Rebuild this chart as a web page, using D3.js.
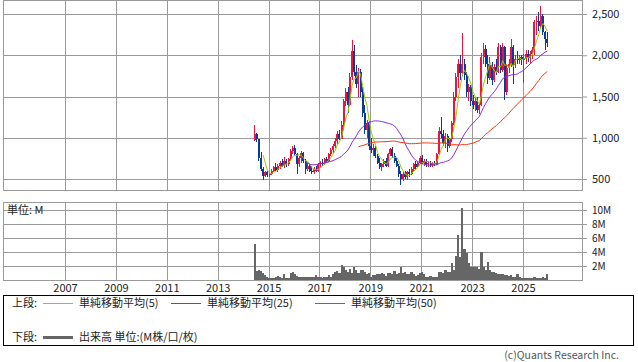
<!DOCTYPE html>
<html>
<head>
<meta charset="utf-8">
<script src="https://cdn.jsdelivr.net/npm/d3@7"></script>
<style>
  body { margin: 0; background: #fff; }
  text { font-family: "Noto Sans CJK JP", "DejaVu Sans", sans-serif; }
</style>
</head>
<body>
<div id="vis"></div>
<script>
// monthly candles, first one is Jun 2014
const firstMonth = [2014, 5];
const opens = [975,1040,985,760,620,540,580,545,560,600,640,610,660,700,660,720,680,740,840,880,
  800,680,760,820,720,620,660,600,580,620,600,680,700,690,740,720,800,850,900,960,
  1050,990,1150,1440,1560,1400,1740,2050,1800,1650,1800,1550,1300,1100,1180,900,850,880,780,700,
  650,680,720,660,800,860,780,720,660,560,500,560,520,580,560,620,680,650,700,760,
  700,720,680,700,670,690,680,800,1080,1050,940,1020,900,980,1180,1500,1740,1900,1780,1900,
  1760,1560,1620,1450,1400,1450,1340,1400,1980,2080,1900,1720,1880,1700,1860,1800,2100,1820,2100,1560,
  1850,1900,2100,1880,1960,1940,1980,1950,1960,2010,1970,2020,2060,2400,2420,2350,2480,2280,2200];
const highs = [1150,1060,990,830,650,600,600,580,620,660,700,680,720,740,770,740,760,860,900,910,
  820,780,840,830,740,700,680,660,640,660,700,720,740,760,770,820,880,920,1000,1080,
  1100,1200,1470,1600,1620,1780,2190,2120,1880,1840,1830,1620,1400,1220,1200,1000,920,900,800,760,
  700,740,760,820,880,890,820,760,680,600,580,600,600,620,640,700,720,720,780,790,
  740,740,720,720,710,720,820,1130,1250,1100,1060,1040,1000,1200,1550,1780,1950,2000,2270,1950,
  1800,1650,1640,1520,1480,1500,1420,2030,2150,2120,2000,1980,1920,1900,1960,2150,2130,2150,2110,1900,
  1960,2200,2130,2000,2050,2000,2000,2020,2060,2060,2050,2100,2430,2480,2520,2600,2500,2300,2280];
const lows = [960,950,720,600,490,520,520,520,545,580,600,590,620,640,630,640,660,720,800,780,
  560,640,700,700,560,600,580,560,560,580,590,650,660,670,700,710,780,820,870,920,
  970,980,1100,1380,1300,1380,1700,1750,1600,1500,1500,1250,1050,1000,850,820,780,760,680,620,
  600,640,640,650,780,760,700,640,520,430,470,500,490,530,550,600,620,640,680,680,
  660,650,650,650,650,660,670,790,1000,900,880,830,870,950,1150,1450,1600,1700,1750,1700,
  1500,1450,1380,1350,1330,1300,1290,1380,1900,1860,1650,1700,1640,1680,1760,1780,1780,1800,1460,1520,
  1780,1860,1650,1840,1900,1900,1880,1660,1900,1920,1900,1960,2000,2250,2300,2330,2250,2060,2100];
const closes = [1040,985,760,620,540,580,545,560,600,640,610,660,700,660,720,680,740,840,880,800,
  680,760,820,720,620,660,600,580,620,600,680,700,690,740,720,800,850,900,960,1050,
  990,1150,1440,1560,1400,1740,2050,1800,1650,1800,1550,1300,1100,1180,900,850,880,780,700,650,
  680,720,660,800,860,780,720,660,560,500,560,520,580,560,620,680,650,700,760,700,
  720,680,700,670,690,680,800,1080,1050,940,1020,900,980,1180,1500,1740,1900,1780,1900,1760,
  1560,1620,1450,1400,1450,1340,1400,1980,2080,1900,1720,1880,1700,1860,1800,2100,1820,2100,1560,1850,
  1900,2100,1880,1960,1940,1980,1950,1960,2010,1970,2020,2060,2400,2420,2350,2480,2280,2200,2150];
// volume in millions
const volumes = [5.2,1.3,1.4,1.3,1.0,0.7,0.4,0.3,0.3,0.3,0.5,0.6,0.4,0.3,0.9,0.3,0.3,1.0,1.2,0.9,
  0.6,0.4,0.4,0.5,0.4,0.4,0.5,0.4,0.4,0.7,0.4,0.5,0.3,0.5,0.5,0.7,0.5,0.9,1.2,1.3,
  1.0,2.1,1.8,1.5,1.2,1.6,1.0,1.8,1.5,1.0,1.4,1.4,1.1,0.9,1.0,0.5,0.7,0.7,0.8,0.9,
  1.0,0.9,0.6,1.0,1.0,0.9,1.3,0.9,1.0,1.8,1.0,1.1,0.9,0.8,1.2,0.9,0.6,0.7,1.0,1.1,
  0.8,0.5,0.5,0.6,0.4,0.5,0.4,1.1,1.1,1.0,1.4,1.1,1.2,2.5,1.4,3.5,6.4,3.3,10.3,4.5,
  3.8,2.4,1.9,1.9,1.8,1.9,1.6,4.0,1.9,1.5,2.6,1.4,1.1,1.1,1.0,0.9,0.8,0.8,0.7,0.7,
  0.6,0.7,0.5,0.4,0.8,0.4,0.3,0.3,0.3,0.3,0.3,0.3,0.4,0.3,0.3,0.3,0.4,0.3,0.9];

const priceTicks = [500, 1000, 1500, 2000, 2500];
const volumeTicks = [2, 4, 6, 8, 10];
const yearTicks = [2007, 2009, 2011, 2013, 2015, 2017, 2019, 2021, 2023, 2025];
const maPeriods = [5, 25, 50];
const maColors = ["#99cc00", "#8a2be2", "#ff3300"];

function sma(arr, n) {
  return arr.map((d, i) => i < n - 1 ? null : d3.mean(arr.slice(i - n + 1, i + 1)));
}

const width = 638, height = 362;
const left = 3, right = 582;
const pTop = 0.5, pBottom = 190;
const vTop = 202, vBottom = 280;
const grid = "#9a9a9a", ink = "#222";

const svg = d3.select("#vis").append("svg")
  .attr("width", width).attr("height", height);

const x = d3.scaleTime()
  .domain([new Date(2007, 0, 1), new Date(2025, 0, 1)])
  .range([65, 523]);
const y = d3.scaleLinear().domain([500, 2500]).range([179, 14]);
const yv = d3.scaleLinear().domain([0, 10]).range([280, 210]);

const dates = closes.map((d, i) => new Date(firstMonth[0], firstMonth[1] + i, 15));

// panels
const g = svg.append("g").attr("shape-rendering", "crispEdges");
for (const [t, b] of [[pTop, pBottom], [vTop, vBottom]]) {
  g.append("rect").attr("x", left).attr("y", t)
    .attr("width", right - left).attr("height", b - t)
    .attr("fill", "none").attr("stroke", grid);
  g.selectAll(null).data(yearTicks).join("line")
    .attr("x1", d => Math.round(x(new Date(d, 0, 1))) + 0.5)
    .attr("x2", d => Math.round(x(new Date(d, 0, 1))) + 0.5)
    .attr("y1", t).attr("y2", b).attr("stroke", grid);
}
g.selectAll(null).data(priceTicks).join("line")
  .attr("x1", left).attr("x2", right)
  .attr("y1", d => Math.round(y(d)) + 0.5).attr("y2", d => Math.round(y(d)) + 0.5)
  .attr("stroke", grid);
g.selectAll(null).data(volumeTicks).join("line")
  .attr("x1", left).attr("x2", right)
  .attr("y1", d => Math.round(yv(d)) + 0.5).attr("y2", d => Math.round(yv(d)) + 0.5)
  .attr("stroke", grid);

// axes
const styleAxis = size => sel => {
  sel.select(".domain").remove();
  sel.selectAll("line").attr("stroke", grid);
  sel.selectAll("text").attr("fill", ink).style("font-size", size)
    .style("font-family", '"Noto Sans CJK JP", sans-serif');
};
svg.append("g").attr("transform", `translate(${right},0)`)
  .call(d3.axisRight(y).tickValues(priceTicks).tickSize(5).tickPadding(5).tickFormat(d3.format(",")))
  .call(styleAxis("11px"));
svg.append("g").attr("transform", `translate(${right},0)`)
  .call(d3.axisRight(yv).tickValues(volumeTicks).tickSize(5).tickPadding(5).tickFormat(d => d + "M"))
  .call(styleAxis("10px"));
svg.append("g").attr("transform", `translate(0,${vBottom})`)
  .call(d3.axisBottom(x).tickValues(yearTicks.map(d => new Date(d, 0, 1))).tickSize(0).tickPadding(4)
    .tickFormat(d3.timeFormat("%Y")))
  .call(styleAxis("11px"));

// volume bars
svg.append("g").attr("shape-rendering", "crispEdges")
  .selectAll("rect").data(volumes).join("rect")
    .attr("x", (d, i) => x(dates[i]) - 1.1)
    .attr("width", 2.2)
    .attr("y", d => yv(d))
    .attr("height", d => yv(0) - yv(d))
    .attr("fill", "#666");

// candles
const red = "#f5103c", blue = "#0a3a9c";
const candles = svg.append("g").attr("shape-rendering", "crispEdges")
  .selectAll("g").data(closes).join("g")
    .attr("fill", (d, i) => d >= opens[i] ? red : blue)
    .attr("stroke", "none");
candles.append("rect")
  .attr("x", (d, i) => x(dates[i]) - 0.5).attr("width", 1)
  .attr("y", (d, i) => y(highs[i]))
  .attr("height", (d, i) => y(lows[i]) - y(highs[i]));
candles.append("rect")
  .attr("x", (d, i) => x(dates[i]) - 1).attr("width", 2)
  .attr("y", (d, i) => y(Math.max(d, opens[i])))
  .attr("height", (d, i) => Math.max(1, Math.abs(y(d) - y(opens[i]))));

// moving averages
maPeriods.forEach((n, k) => {
  const ma = sma(closes, n);
  svg.append("path")
    .datum(ma)
    .attr("fill", "none")
    .attr("stroke", maColors[k])
    .attr("stroke-width", 1)
    .attr("d", d3.line()
      .defined(d => d != null)
      .x((d, i) => x(dates[i]))
      .y(d => y(d)));
});

// unit label in volume panel
svg.append("text").attr("x", 7).attr("y", 214)
  .attr("fill", ink).style("font-size", "11px").text("単位: M");

// legend
const lg = svg.append("g").style("font-size", "11px").attr("fill", ink);
lg.append("rect").attr("x", 3.5).attr("y", 295.5).attr("width", 630).attr("height", 50)
  .attr("fill", "none").attr("stroke", "#000").attr("shape-rendering", "crispEdges");
lg.append("text").attr("x", 12).attr("y", 307).text("上段:");
lg.append("text").attr("x", 12).attr("y", 341).text("下段:");
const legendItems = [
  {x: 43, label: "単純移動平均(5)"},
  {x: 171, label: "単純移動平均(25)"},
  {x: 315, label: "単純移動平均(50)"}
];
legendItems.forEach((d, k) => {
  lg.append("line").attr("x1", d.x).attr("x2", d.x + 30)
    .attr("y1", 303.5).attr("y2", 303.5).attr("stroke", maColors[k]);
  lg.append("text").attr("x", d.x + 36).attr("y", 307).text(d.label);
});
lg.append("line").attr("x1", 43).attr("x2", 73).attr("y1", 337.5).attr("y2", 337.5)
  .attr("stroke", "#666").attr("stroke-width", 3);
lg.append("text").attr("x", 79).attr("y", 341).text("出来高 単位:(M株/口/枚)");

svg.append("text").attr("x", 619).attr("y", 359)
  .attr("text-anchor", "end").attr("fill", "#555").style("font-size", "10.5px")
  .text("(c)Quants Research Inc.");
</script>
</body>
</html>
